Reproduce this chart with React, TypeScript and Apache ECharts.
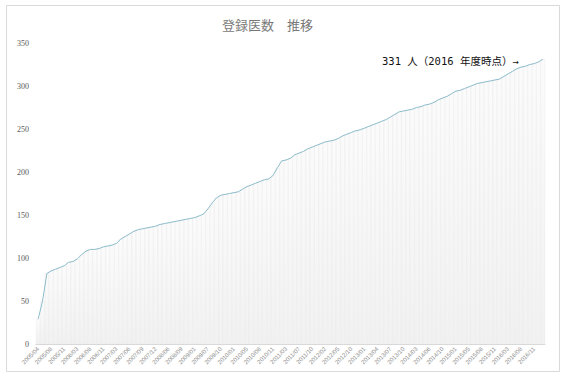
import React, { useEffect, useRef } from "react";
import * as echarts from "echarts";

const categories: string[] = [
  "2005/04", "2005/06", "2005/07",
  "2005/08", "2005/09", "2005/10",
  "2005/11", "2006/01", "2006/02",
  "2006/03", "2006/05", "2006/07",
  "2006/08", "2006/09", "2006/10",
  "2006/11", "2007/01", "2007/02",
  "2007/03", "2007/04", "2007/05",
  "2007/06", "2007/07", "2007/08",
  "2007/09", "2007/10", "2007/11",
  "2007/12", "2008/02", "2008/04",
  "2008/06", "2008/07", "2008/08",
  "2008/09", "2008/10", "2008/12",
  "2009/01", "2009/03", "2009/05",
  "2009/07", "2009/08", "2009/09",
  "2009/10", "2009/11", "2009/12",
  "2010/01", "2010/02", "2010/04",
  "2010/05", "2010/06", "2010/07",
  "2010/08", "2010/09", "2010/10",
  "2010/11", "2011/01", "2011/02",
  "2011/03", "2011/04", "2011/06",
  "2011/07", "2011/08", "2011/09",
  "2011/10", "2011/11", "2012/01",
  "2012/02", "2012/03", "2012/04",
  "2012/05", "2012/07", "2012/08",
  "2012/10", "2012/11", "2012/12",
  "2013/01", "2013/02", "2013/03",
  "2013/04", "2013/05", "2013/06",
  "2013/07", "2013/08", "2013/09",
  "2013/10", "2013/12", "2014/02",
  "2014/03", "2014/04", "2014/05",
  "2014/06", "2014/07", "2014/09",
  "2014/10", "2014/11", "2014/12",
  "2015/01", "2015/02", "2015/04",
  "2015/05", "2015/06", "2015/07",
  "2015/08", "2015/09", "2015/10",
  "2015/11", "2016/01", "2016/02",
  "2016/03", "2016/05", "2016/07",
  "2016/08", "2016/09", "2016/10",
  "2016/11", "2017/01", "2017/03",
];

const registered: number[] = [
  29, 50, 82, 85, 87, 89, 91, 95, 96, 99,
  104, 108, 110, 110, 111, 113, 114, 115, 117, 122,
  125, 128, 131, 133, 134, 135, 136, 137, 139, 140,
  141, 142, 143, 144, 145, 146, 147, 149, 151, 157,
  164, 170, 173, 174, 175, 176, 177, 180, 183, 185,
  187, 189, 191, 192, 196, 205, 213, 214, 216, 220,
  222, 224, 227, 229, 231, 233, 235, 236, 237, 239,
  242, 244, 246, 248, 249, 251, 253, 255, 257, 259,
  261, 264, 267, 270, 271, 272, 273, 275, 276, 278,
  279, 281, 284, 286, 288, 291, 294, 295, 297, 299,
  301, 303, 304, 305, 306, 307, 308, 311, 314, 317,
  320, 322, 323, 325, 326, 328, 331,
];

const titleText = "登録医数　推移";
const noteText = "331 人（2016 年度時点）→";
const yMin = 0;
const yMax = 350;
const yInterval = 50;

export default function App() {
  const ref = useRef<HTMLDivElement>(null);

  useEffect(() => {
    if (!ref.current) return;
    const chart = echarts.init(ref.current, null, { renderer: "svg" });
    chart.setOption({
      animation: false,
      backgroundColor: "#ffffff",
      title: {
        text: titleText,
        left: 217,
        top: 13,
        textStyle: {
          fontFamily: "Noto Sans CJK JP",
          fontSize: 13,
          fontWeight: "normal",
          color: "#7a7a7a",
        },
      },
      graphic: [
        {
          type: "rect",
          shape: { x: 6.5, y: 5.5, width: 553, height: 366 },
          style: { fill: "none", stroke: "#d9d9d9", lineWidth: 1 },
          silent: true,
          z: -1,
        },
        {
          type: "text",
          left: 382,
          top: 56,
          style: {
            text: noteText,
            fontFamily: "DejaVu Sans Mono, Noto Sans CJK JP",
            fontSize: 10.5,
            fontWeight: "normal",
            fill: "#111111",
          },
        },
      ],
      grid: { left: 36, right: 23, top: 43, bottom: 33 },
      xAxis: {
        type: "category",
        data: categories,
        boundaryGap: true,
        axisLine: { show: true, lineStyle: { color: "#d9d9d9" } },
        axisTick: { show: false },
        axisLabel: {
          interval: 2,
          rotate: 45,
          fontSize: 6,
          color: "#8c8c8c",
          margin: 4,
          fontFamily: "Liberation Sans",
        },
      },
      yAxis: {
        type: "value",
        min: yMin,
        max: yMax,
        interval: yInterval,
        axisLine: { show: false },
        axisTick: { show: false },
        splitLine: { show: false },
        axisLabel: {
          fontSize: 8,
          color: "#595959",
          fontFamily: "Liberation Serif",
          margin: 7,
        },
      },
      series: [
        {
          type: "bar",
          data: registered,
          barCategoryGap: "0%",
          itemStyle: {
            color: new echarts.graphic.LinearGradient(0, 0, 0, 1, [
              { offset: 0, color: "#fbfbfb" },
              { offset: 1, color: "#f1f1f1" },
            ]),
            borderColor: "#e4e4e4",
            borderWidth: 0.3,
          },
          silent: true,
        },
        {
          type: "line",
          data: registered,
          showSymbol: false,
          symbol: "none",
          lineStyle: { color: "#8dbccb", width: 1 },
          z: 5,
        },
      ],
    });
    return () => chart.dispose();
  }, []);

  return (
    <div
      ref={ref}
      style={{ position: "fixed", left: 0, top: 0, width: 568, height: 377 }}
    />
  );
}
